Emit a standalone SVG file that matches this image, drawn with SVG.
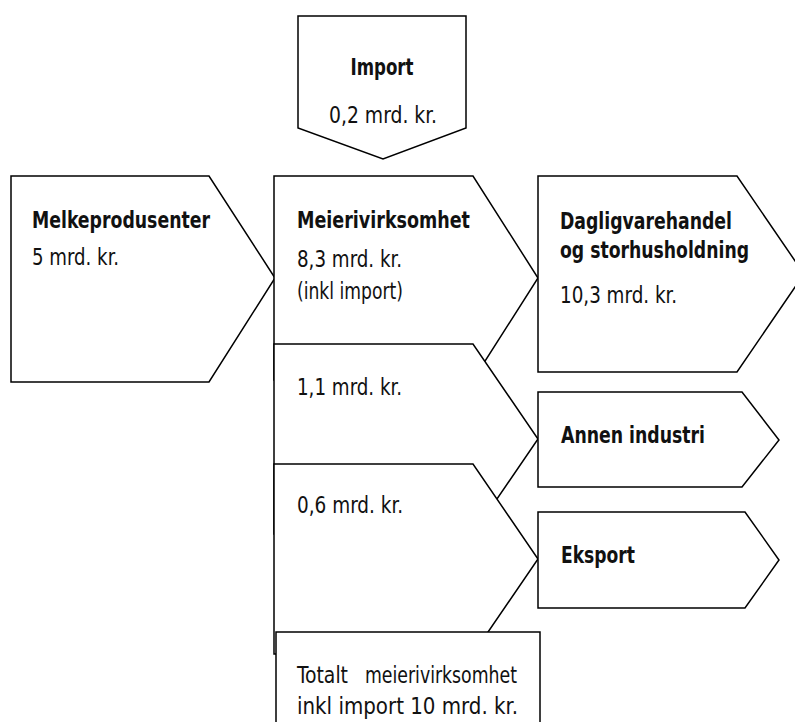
<svg xmlns="http://www.w3.org/2000/svg" width="795" height="722" viewBox="0 0 795 722">
<style>
.s{fill:#fff;stroke:#000;stroke-width:1.5;stroke-linejoin:miter}
text{font-family:"Liberation Sans Narrow","DejaVu Sans Condensed","Liberation Sans",sans-serif;font-size:23px;fill:#111}
.b{font-weight:bold}
.c{text-anchor:middle}
</style>
<rect width="795" height="722" fill="#fff"/>
<g id="import">
<polygon class="s" points="298,16 466,16 466,128 383,159 298,128"/>
<text class="b c" x="382" y="75" textLength="63" lengthAdjust="spacingAndGlyphs">Import</text>
<text class="c" x="383" y="123" textLength="108" lengthAdjust="spacingAndGlyphs">0,2 mrd. kr.</text>
</g>
<g id="melkeprodusenter">
<polygon class="s" points="11,176 209,176 275,278 209,382 11,382"/>
<text class="b" x="32" y="228" textLength="178" lengthAdjust="spacingAndGlyphs">Melkeprodusenter</text>
<text x="32" y="265" textLength="87" lengthAdjust="spacingAndGlyphs">5 mrd. kr.</text>
</g>
<g id="meierivirksomhet">
<polygon class="s" points="274,176 473,176 538,278 473,380 274,380"/>
<text class="b" x="297" y="228" textLength="173" lengthAdjust="spacingAndGlyphs">Meierivirksomhet</text>
<text x="297" y="267" textLength="105" lengthAdjust="spacingAndGlyphs">8,3 mrd. kr.</text>
<text x="297" y="299" textLength="106" lengthAdjust="spacingAndGlyphs">(inkl import)</text>
</g>
<g id="meieri-annen">
<polygon class="s" points="274,344 473,344 538,439 473,534 274,534"/>
<text x="297" y="395" textLength="105" lengthAdjust="spacingAndGlyphs">1,1 mrd. kr.</text>
</g>
<g id="meieri-eksport">
<polygon class="s" points="274,464 473,464 538,559 473,654 274,654"/>
<text x="297" y="513" textLength="106" lengthAdjust="spacingAndGlyphs">0,6 mrd. kr.</text>
</g>
<g id="totalt">
<rect class="s" x="276" y="632" width="264" height="110"/>
<text x="297" y="683"><tspan textLength="51" lengthAdjust="spacingAndGlyphs">Totalt</tspan><tspan x="365" textLength="152" lengthAdjust="spacingAndGlyphs">meierivirksomhet</tspan></text>
<text x="297" y="714" textLength="221" lengthAdjust="spacingAndGlyphs">inkl import 10 mrd. kr.</text>
</g>
<g id="dagligvarehandel">
<polygon class="s" points="538,176 737,176 804,274 737,372 538,372"/>
<text class="b" x="560" y="229" textLength="172" lengthAdjust="spacingAndGlyphs">Dagligvarehandel</text>
<text class="b" x="560" y="258" textLength="189" lengthAdjust="spacingAndGlyphs">og storhusholdning</text>
<text x="560" y="303" textLength="117" lengthAdjust="spacingAndGlyphs">10,3 mrd. kr.</text>
</g>
<g id="annen-industri">
<polygon class="s" points="538,392 742,392 779,440 742,487 538,487"/>
<text class="b" x="561" y="443" textLength="144" lengthAdjust="spacingAndGlyphs">Annen industri</text>
</g>
<g id="eksport">
<polygon class="s" points="538,512 745,512 779,560 745,608 538,608"/>
<text class="b" x="561" y="563" textLength="74" lengthAdjust="spacingAndGlyphs">Eksport</text>
</g>
</svg>
